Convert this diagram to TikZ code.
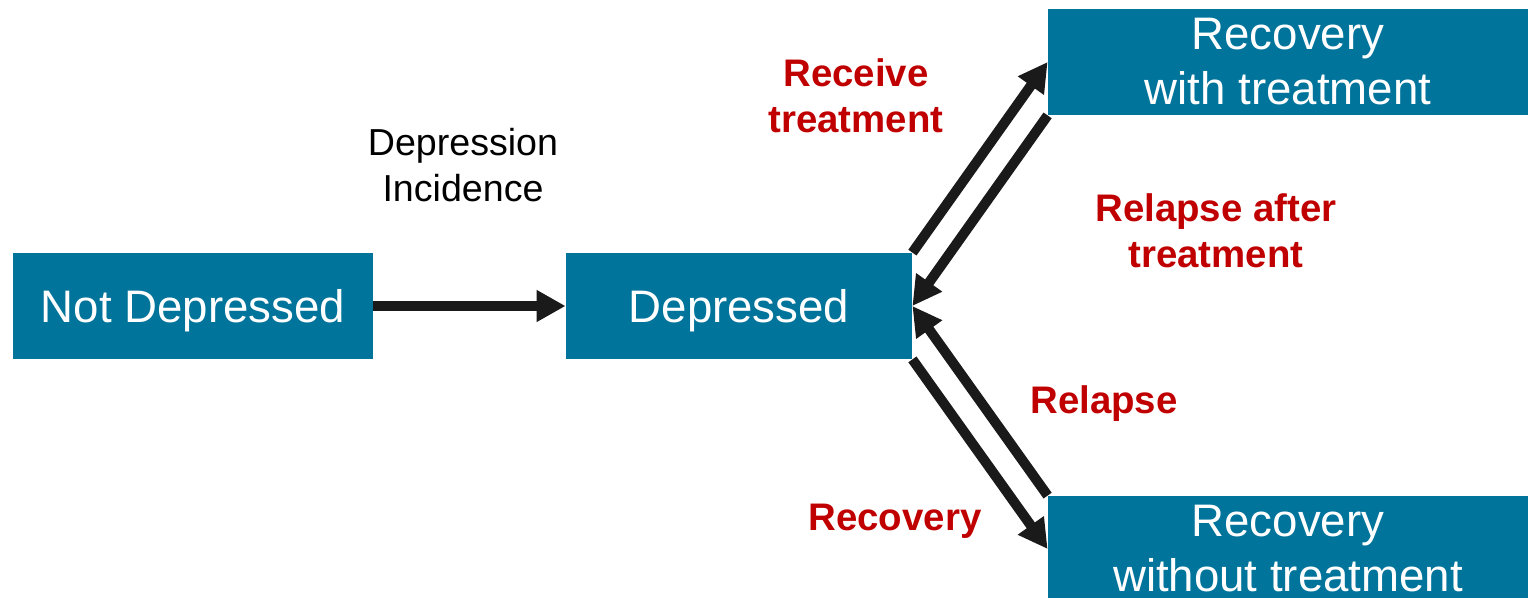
\documentclass[tikz,border=0pt]{standalone}
\usepackage{fontspec}
\setmainfont{Liberation Sans}
\usetikzlibrary{arrows.meta}
\definecolor{boxteal}{HTML}{00749B}
\definecolor{lblred}{HTML}{C00000}
\definecolor{arrblack}{HTML}{1A1A1A}
\tikzset{
  statebox/.style={fill=boxteal, text=white, inner sep=0pt, align=center,
    minimum height=53pt, font=\fontsize{22.8pt}{27.5pt}\selectfont},
  blacklbl/.style={text=black, inner sep=0pt, align=center,
    font=\fontsize{18.8pt}{23pt}\selectfont},
  redlbl/.style={text=lblred, inner sep=0pt, align=center,
    font=\bfseries\fontsize{19.2pt}{23pt}\selectfont},
  flow/.style={draw=arrblack, line width=5pt,
    -{Triangle[length=14.5pt,width=15pt]}}
}
\begin{document}
\begin{tikzpicture}[x=0.5pt,y=-0.5pt]
\useasboundingbox (0,0) rectangle (1529,598);
\clip (0,0) rectangle (1529,598);
\node[statebox, minimum width=180pt, text depth=0pt] (nd) at (193,306) {Not Depressed};
\node[statebox, minimum width=173pt, text depth=0pt] (dep) at (739,306) {Depressed};
\node[statebox, minimum width=240pt] (rwt) at (1288,62) {Recovery\\with treatment};
\node[statebox, minimum width=240pt] (rwo) at (1288,549) {Recovery\\without treatment};
\node[blacklbl] (inc) at (463,165) {Depression\\Incidence};
\node[redlbl] (rt) at (856,96) {Receive\\treatment};
\node[redlbl] (rat) at (1216,231) {Relapse after\\treatment};
\node[redlbl, anchor=base] (rel) at (1104,413) {Relapse};
\node[redlbl, anchor=base] (rec) at (895,530) {Recovery};
\draw[flow] (nd.east) -- (dep.west);
\draw[flow] (dep.north east) -- (rwt.west);
\draw[flow] (rwt.south west) -- (dep.east);
\draw[flow] (rwo.north west) -- (dep.east);
\draw[flow] (dep.south east) -- (rwo.west);
\end{tikzpicture}
\end{document}
